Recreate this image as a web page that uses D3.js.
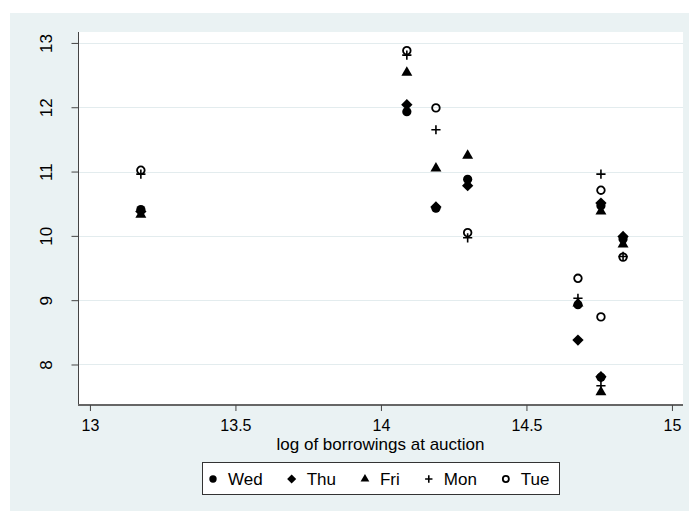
<!DOCTYPE html>
<html>
<head>
<meta charset="utf-8">
<script src="https://cdn.jsdelivr.net/npm/d3@7"></script>
<style>
  body { margin: 0; background: #ffffff; }
  svg { display: block; font-family: Arial, "Liberation Sans", sans-serif; }
</style>
</head>
<body>
<svg id="chart" width="689" height="511"></svg>
<script>
// ---- data ----
const xValues = [13.175, 14.089, 14.189, 14.298, 14.677, 14.756, 14.756, 14.832];
const wed = [10.41, 11.93, 10.43, 10.88, 8.93, 10.47, 7.80, 9.95];
const thu = [10.38, 12.04, 10.45, 10.78, 8.38, 10.51, 7.81, 9.99];
const fri = [10.33, 12.54, 11.05, 11.25, 8.95, 10.38, 7.57, 9.87];
const mon = [10.96, 12.81, 11.65, 9.97, 9.03, 10.96, 7.67, 9.68];
const tue = [11.02, 12.88, 11.99, 10.05, 9.34, 10.71, 8.74, 9.67];
const seriesNames = ["Wed", "Thu", "Fri", "Mon", "Tue"];
const seriesSymbols = ["circle", "diamond", "triangle", "plus", "hollow"];
const xTicks = [13, 13.5, 14, 14.5, 15];
const yTicks = [8, 9, 10, 11, 12, 13];
const xTitle = "log of borrowings at auction";

const series = [wed, thu, fri, mon, tue];

// ---- layout ----
const svg = d3.select("#chart");
const W = 689, H = 511;
const plot = { left: 78, right: 683, top: 32, bottom: 405 };
const bg = "#eaf2f3";
const fontSize = 17;
const tickFontSize = 16;

svg.append("rect").attr("x", 10).attr("y", 13).attr("width", W - 10).attr("height", H - 13).attr("fill", bg);
svg.append("rect").attr("x", plot.left).attr("y", plot.top)
  .attr("width", plot.right - plot.left).attr("height", plot.bottom - plot.top).attr("fill", "#ffffff");

const x = d3.scaleLinear().domain([12.959, 15.038]).range([plot.left, plot.right]);
const y = d3.scaleLinear().domain([7.37, 13.17]).range([plot.bottom, plot.top]);

// gridlines
svg.append("g").selectAll("line").data(yTicks).join("line")
  .attr("x1", plot.left + 1).attr("x2", plot.right)
  .attr("y1", d => Math.round(y(d)) + 0.5).attr("y2", d => Math.round(y(d)) + 0.5)
  .attr("stroke", "#e3ecee").attr("stroke-width", 1.2);

// y axis
const yAxis = d3.axisLeft(y).tickValues(yTicks).tickSize(7).tickFormat(d3.format("d"));
const gy = svg.append("g").attr("transform", `translate(${plot.left + 0.5},0)`).call(yAxis);
gy.select(".domain").attr("stroke", "#444").attr("d", `M0,${plot.top}V${plot.bottom}`);
gy.selectAll(".tick line").attr("stroke", "#444");
gy.selectAll(".tick text")
  .attr("x", null).attr("dy", null)
  .attr("transform", "translate(-26.5,0) rotate(-90)")
  .attr("text-anchor", "middle")
  .attr("font-size", fontSize).attr("fill", "#000")
  .attr("font-family", "Arial, 'Liberation Sans', sans-serif");

// x axis
const xAxis = d3.axisBottom(x).tickValues(xTicks).tickSize(6).tickFormat(d => String(d));
const gx = svg.append("g").attr("transform", `translate(0,${plot.bottom})`).call(xAxis);
gx.select(".domain").attr("stroke", "#666").attr("stroke-width", 2).attr("d", `M${plot.left},0H${plot.right}`);
gx.selectAll(".tick line").attr("stroke", "#444");
gx.selectAll(".tick text")
  .attr("y", 25.5).attr("dy", null)
  .attr("font-size", tickFontSize).attr("fill", "#000")
  .attr("font-family", "Arial, 'Liberation Sans', sans-serif");

// x title
svg.append("text").attr("x", (plot.left + plot.right) / 2).attr("y", 449.5)
  .attr("text-anchor", "middle").attr("font-size", fontSize).attr("fill", "#000")
  .text(xTitle);

// marker drawer
function drawMarker(g, type, scale) {
  const s = scale || 1;
  if (type === "circle") {
    g.append("circle").attr("r", 4.6 * s).attr("fill", "#000");
  } else if (type === "diamond") {
    g.append("path").attr("d", d3.symbol(d3.symbolSquare, 64 * s * s)()).attr("transform", "rotate(45)").attr("fill", "#000");
  } else if (type === "triangle") {
    g.append("path").attr("d", d3.symbol(d3.symbolTriangle, 52 * s * s)()).attr("fill", "#000");
  } else if (type === "plus") {
    const r = 4.6 * s;
    g.append("path").attr("d", `M${-r},0H${r}M0,${-r}V${r}`).attr("stroke", "#000").attr("stroke-width", 1.6).attr("fill", "none");
  } else if (type === "hollow") {
    g.append("circle").attr("r", 3.8 * s).attr("fill", "none").attr("stroke", "#000").attr("stroke-width", 1.8);
  }
}

// points
series.forEach((vals, si) => {
  const g = svg.append("g").attr("class", "series-" + seriesNames[si]);
  vals.forEach((v, i) => {
    const m = g.append("g").attr("transform", `translate(${x(xValues[i])},${y(v)})`);
    drawMarker(m, seriesSymbols[si], 1);
  });
});

// legend
const legend = svg.append("g");
legend.append("rect").attr("x", 202.5).attr("y", 462.5).attr("width", 357).attr("height", 32)
  .attr("fill", "#fff").attr("stroke", "#333").attr("stroke-width", 1);
let lx = 213;
const ly = 479;
seriesNames.forEach((name, i) => {
  const m = legend.append("g").attr("transform", `translate(${lx},${ly})`);
  drawMarker(m, seriesSymbols[i], 0.8);
  const t = legend.append("text").attr("x", lx + 15).attr("y", ly + 6)
    .attr("font-size", fontSize).attr("fill", "#000").text(name);
  const w = t.node().getComputedTextLength();
  lx = lx + 15 + w + 29;
});
</script>
</body>
</html>
